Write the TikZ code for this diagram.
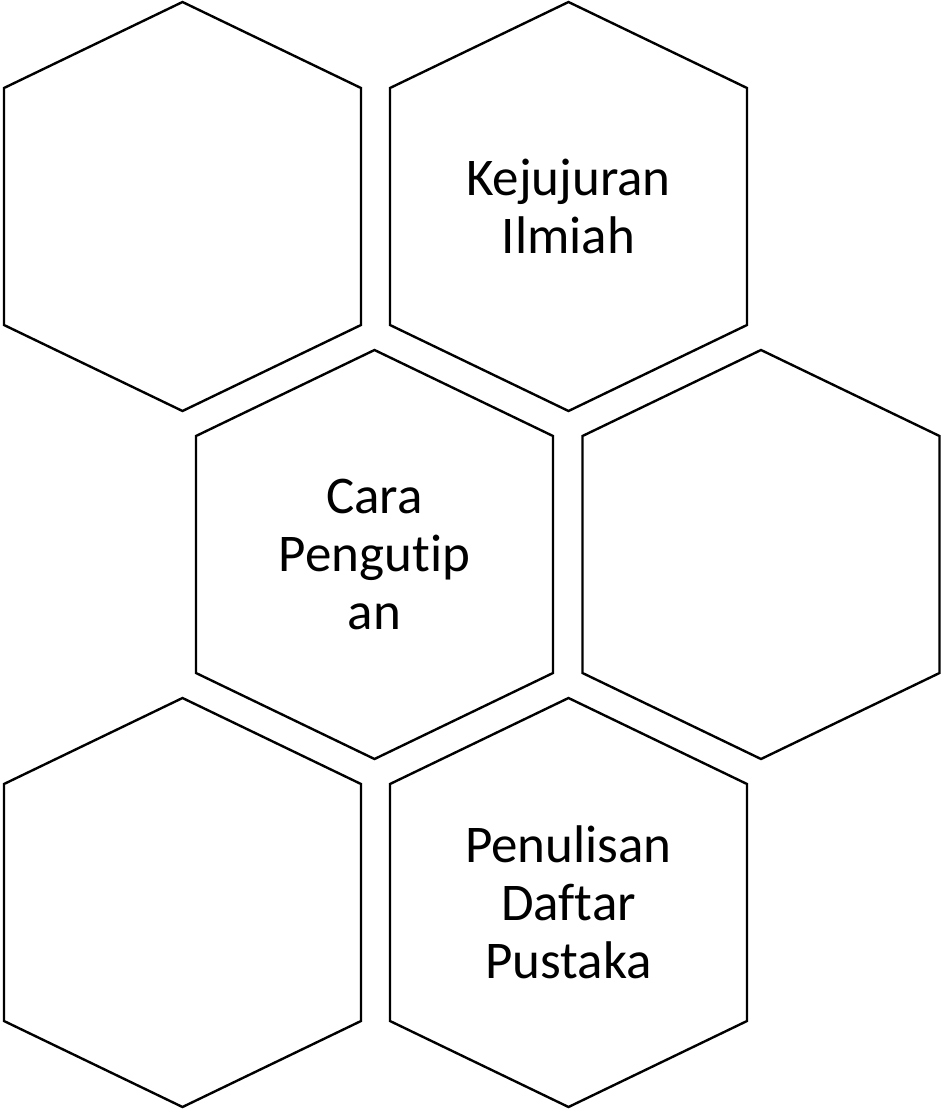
\documentclass[tikz,border=0pt]{standalone}
\usepackage{fontspec}
\setmainfont[Ligatures=NoCommon,RawFeature=-liga]{Carlito}
\usetikzlibrary{calc}
\tikzset{
  hexline/.style={draw=black, line width=2.4pt, line join=miter},
  hexlabel/.style={align=center, font=\fontsize{53}{58}\selectfont, inner sep=0pt}
}
\newcommand{\hexcell}[4]{%
  % #1 name, #2 cx, #3 cy, #4 text
  \node[hexlabel] (#1) at (#2,#3) {#4};
  \draw[hexline] ($(#1.center)+(0,-204.5)$) -- ++(178.5,86) -- ++(0,237) -- ++(-178.5,86) -- ++(-178.5,-86) -- ++(0,-237) -- cycle;
}
\begin{document}
\begin{tikzpicture}[x=1pt,y=-1pt]
\useasboundingbox (0,0) rectangle (941,1109);
\hexcell{h1}{182.5}{206.5}{}
\hexcell{h2}{568.5}{206.5}{Kejujuran\\Ilmiah}
\hexcell{h3}{374.5}{554.5}{Cara\\Pengutip\\an}
\hexcell{h4}{761}{554.5}{}
\hexcell{h5}{182.5}{902.5}{}
\hexcell{h6}{568.5}{902.5}{Penulisan\\Daftar\\Pustaka}
\end{tikzpicture}
\end{document}
